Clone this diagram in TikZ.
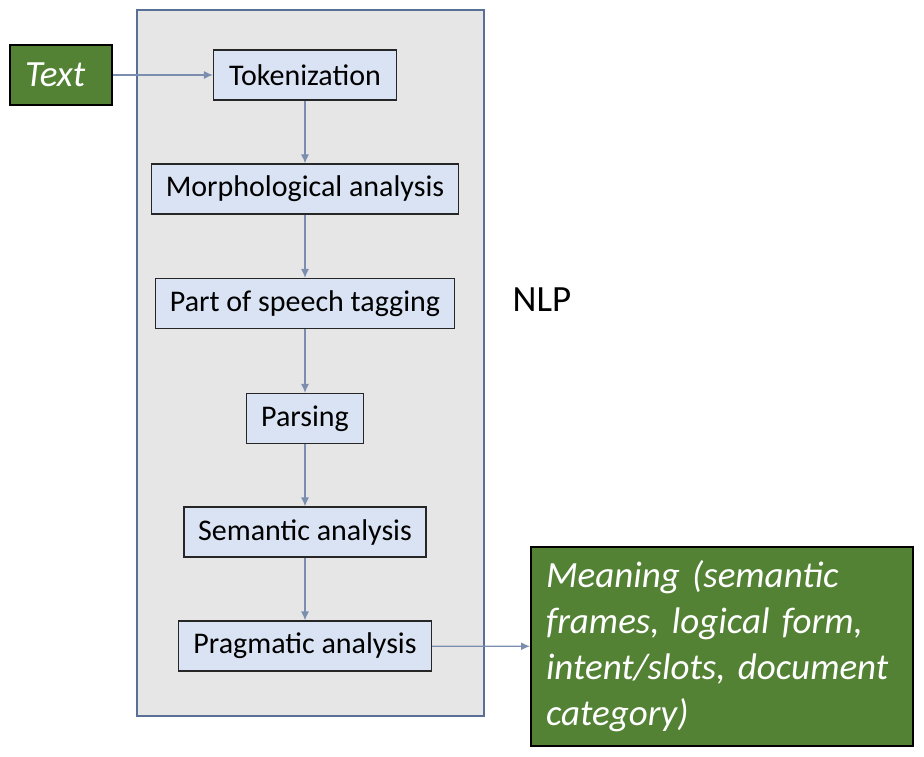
\documentclass[tikz,border=0pt]{standalone}
\usepackage{fontspec}
\setmainfont{Carlito}
\usetikzlibrary{arrows.meta}
\definecolor{nlpgray}{HTML}{E6E6E6}
\definecolor{nlpborder}{HTML}{5A6F96}
\definecolor{stageblue}{HTML}{DAE3F3}
\definecolor{iogreen}{HTML}{548235}
\definecolor{flowblue}{HTML}{7C8EAF}
\tikzset{>={Latex[length=9pt,width=8pt]}}
\tikzset{
  stage/.style={draw=black!85, line width=1.2pt, fill=stageblue, minimum height=50pt,
    font=\fontsize{30}{35}\selectfont},
  io/.style={draw=black, line width=2pt, fill=iogreen, text=white,
    font=\fontsize{37}{46}\selectfont\itshape},
  flow/.style={->, draw=flowblue, line width=1.2pt}
}

\begin{document}
\begin{tikzpicture}[x=1pt,y=-1pt]
\useasboundingbox (0,0) rectangle (924,757);
\node[draw=nlpborder, line width=1.6pt, fill=nlpgray, minimum width=347pt, minimum height=706pt] (nlp) at (310.5,363) {};
\node[font=\fontsize{37}{42}\selectfont] (nlplabel) at (542,300) {NLP};
    \node[io, minimum width=102pt, minimum height=60pt, text width=72pt, inner xsep=15pt, align=left] (txt) at (61,75) {Text};
    \node[stage, minimum width=183pt] (tok) at (305,75) {Tokenization};
    \node[stage, minimum width=307pt] (morph) at (305,189) {Morphological analysis};
    \node[stage, minimum width=299pt] (pos) at (305,303.5) {Part of speech tagging};
    \node[stage, minimum width=117pt] (parse) at (305,418.5) {Parsing};
    \node[stage, minimum width=242pt] (sem) at (305,532) {Semantic analysis};
    \node[stage, minimum width=253pt] (prag) at (305,646) {Pragmatic analysis};
    \node[io, minimum width=382pt, minimum height=199pt, text width=352pt, inner xsep=15pt, align=left] (meaning) at (722,646.5)
      {Meaning (semantic\\frames, logical form,\\intent/slots, document\\category)};
\draw[flow] (txt) -- (tok);
\foreach \a/\b in {tok/morph, morph/pos, pos/parse, parse/sem, sem/prag}
    \draw[flow] (\a) -- (\b);
\draw[flow] (prag) -- (meaning);
\end{tikzpicture}
\end{document}
